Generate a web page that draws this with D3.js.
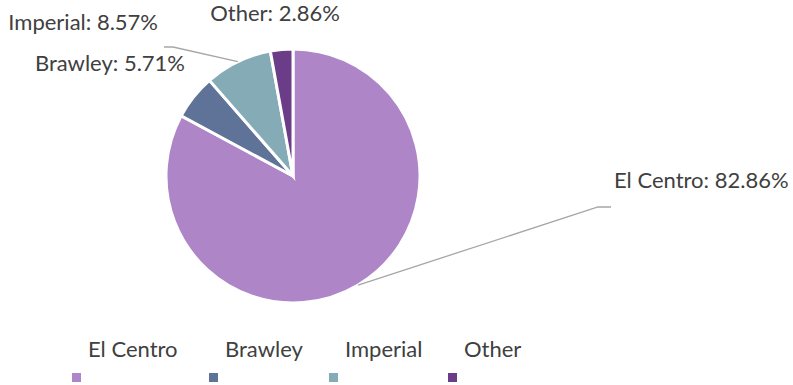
<!DOCTYPE html>
<html><head><meta charset="utf-8">
<script src="https://cdn.jsdelivr.net/npm/d3@7"></script>
<style>body{margin:0;background:#fff}svg{display:block}</style>
</head><body>
<svg id="c" width="793" height="385"></svg>
<script>
const categories = ["El Centro", "Brawley", "Imperial", "Other"];
const percents = [82.86, 5.71, 8.57, 2.86];
const colors = ["#AE85C7", "#5F7399", "#85ABB6", "#6B3C87"];

const svg = d3.select("#c");
const cx = 293, cy = 176, R = 127;
const font = "Lato, 'Open Sans', sans-serif";
const textColor = "#404040";
const fs = 22;

const data = categories.map((c, i) => ({cat: c, v: percents[i], color: colors[i]}));
const pie = d3.pie().value(d => d.v).sort(null);
const arcs = pie(data);
const arc = d3.arc().innerRadius(0).outerRadius(R);

const g = svg.append("g").attr("transform", `translate(${cx},${cy})`);
g.selectAll("path").data(arcs).join("path")
  .attr("d", arc).attr("fill", d => d.data.color)
  .attr("stroke", "#fff").attr("stroke-width", 3).attr("stroke-linejoin", "miter");

// label layout (positions in pixels, separate from data)
const labelLayout = {
  "El Centro": {x: 614, y: 180, anchor: "start", leader: [[598, 207], [611, 207]]},
  "Brawley":   {x: 185, y: 63, anchor: "end", leader: null},
  "Imperial":  {x: 158, y: 22, anchor: "end", leader: [[173, 47], [164, 47]]},
  "Other":     {x: 275, y: 13, anchor: "middle", leader: null}
};

arcs.forEach(a => {
  const L = labelLayout[a.data.cat];
  if (L.leader) {
    const mid = (a.startAngle + a.endAngle) / 2;
    const p0 = [cx + R * Math.sin(mid), cy - R * Math.cos(mid)];
    const pts = [p0].concat(L.leader);
    svg.append("path").attr("d", d3.line()(pts))
      .attr("fill", "none").attr("stroke", "#A6A6A6").attr("stroke-width", 1.3);
  }
  svg.append("text").attr("x", L.x).attr("y", L.y)
    .attr("dy", "0.35em").attr("text-anchor", L.anchor)
    .attr("font-family", font).attr("font-size", fs).attr("fill", textColor)
    .text(`${a.data.cat}: ${a.data.v.toFixed(2)}%`);
});

// legend
const legendTextX = {"El Centro": 88, "Brawley": 225, "Imperial": 345, "Other": 464};
const lg = svg.append("g");
categories.forEach((c, i) => {
  const x = legendTextX[c];
  lg.append("text").attr("x", x).attr("y", 349).attr("dy", "0.35em")
    .attr("font-family", font).attr("font-size", fs).attr("fill", textColor).text(c);
  lg.append("rect").attr("x", x - 16).attr("y", 373).attr("width", 9).attr("height", 9)
    .attr("fill", colors[i]);
});
</script>
</body></html>
